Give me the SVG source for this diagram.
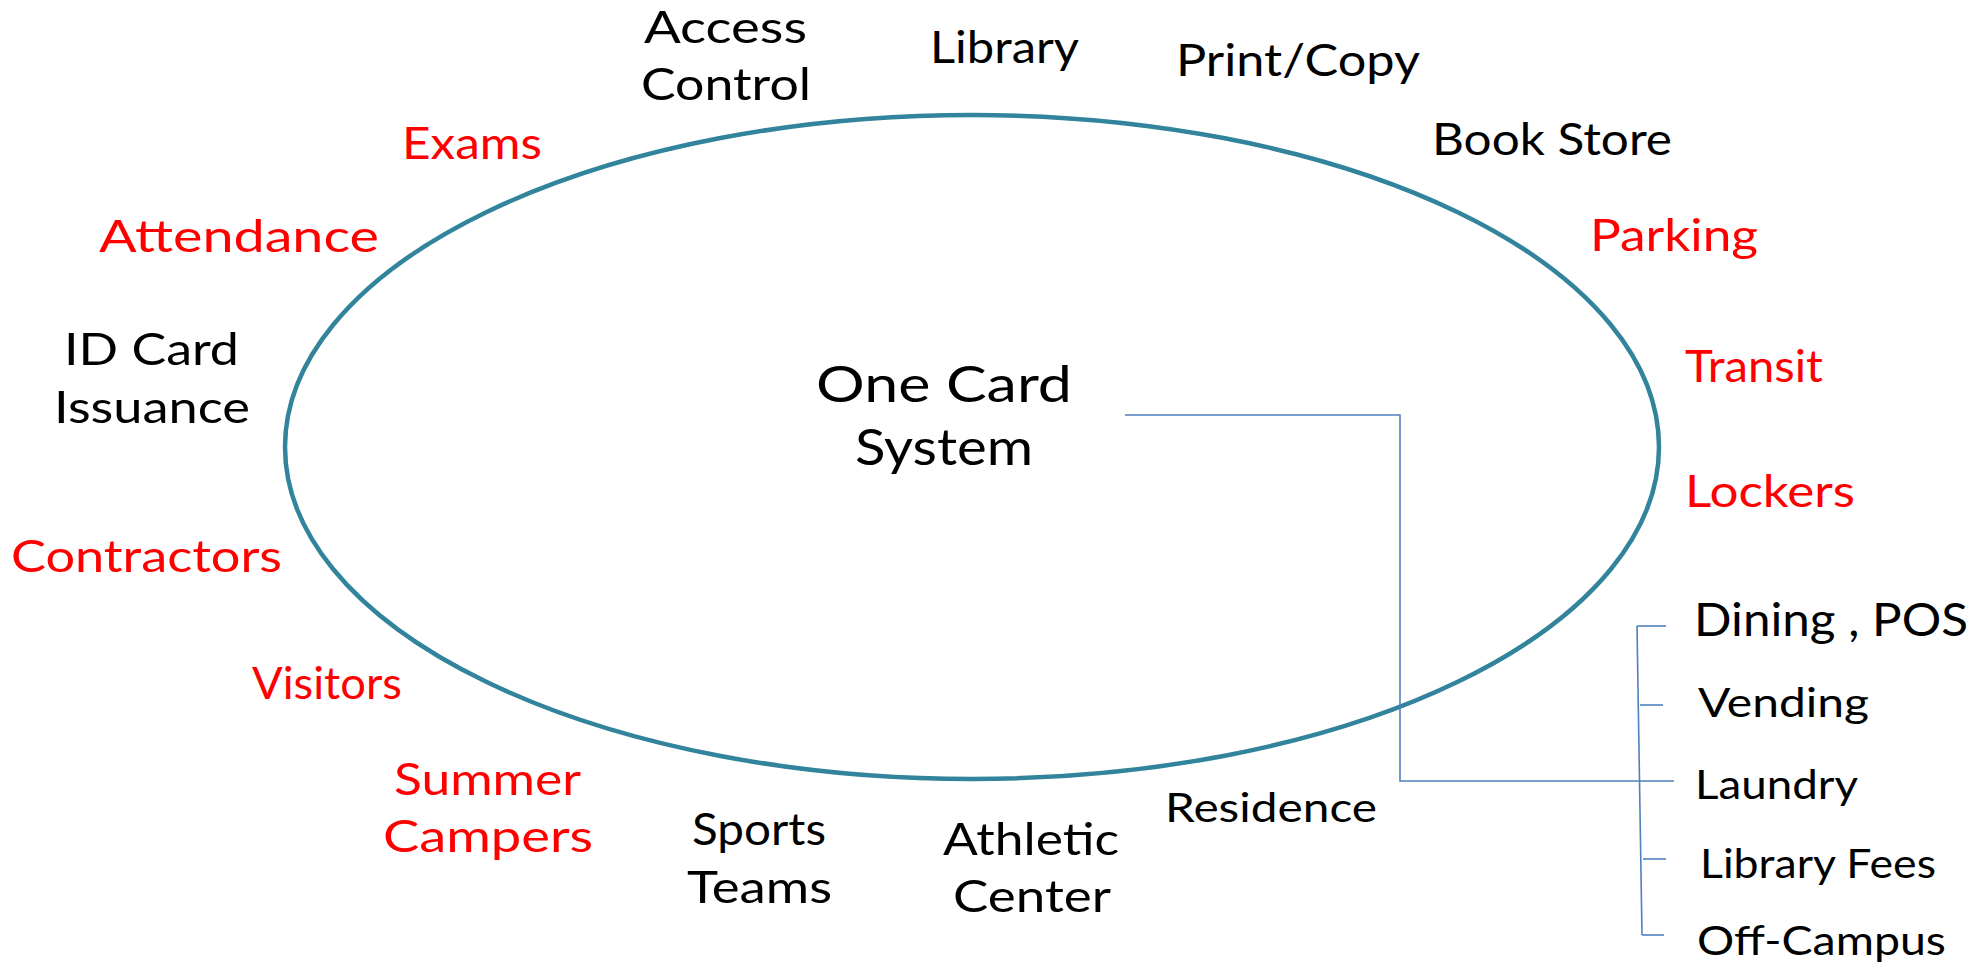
<svg xmlns="http://www.w3.org/2000/svg" width="1987" height="966" viewBox="0 0 1987 966">
  <style>
    text { font-family: "Lato", "Open Sans", "Liberation Sans", sans-serif; font-size: 45px; font-weight: 400; }
    .blk { fill: #000000; }
    .red { fill: #FF0000; }
    .sm { font-size: 40px; }
    .ctr { font-size: 50px; }
    .ring { fill: none; stroke: #31849B; stroke-width: 4.5; }
    .link { fill: none; stroke: #4F81BD; stroke-width: 1.6; }
  </style>
  <rect width="1987" height="966" fill="#FFFFFF"/>

  <!-- central ellipse -->
  <g id="one-card-system">
    <ellipse class="ring" cx="972" cy="447" rx="687" ry="332"/>
    <text class="blk ctr" x="816" y="402" textLength="256" lengthAdjust="spacingAndGlyphs">One Card</text>
    <text class="blk ctr" x="855" y="465" textLength="178" lengthAdjust="spacingAndGlyphs">System</text>
  </g>

  <!-- connectors -->
  <g id="connectors">
    <polyline class="link" points="1125,415 1400,415 1400,781 1674,781"/>
    <line class="link" x1="1637" y1="626" x2="1642" y2="935"/>
    <line class="link" x1="1637" y1="626" x2="1666" y2="626"/>
    <line class="link" x1="1640" y1="705" x2="1663" y2="705"/>
    <line class="link" x1="1643" y1="859" x2="1666" y2="859"/>
    <line class="link" x1="1642" y1="935" x2="1664" y2="935"/>
  </g>

  <!-- surrounding services -->
  <g id="access-control">
    <text class="blk" x="644" y="43" textLength="163" lengthAdjust="spacingAndGlyphs">Access</text>
    <text class="blk" x="641" y="100" textLength="170" lengthAdjust="spacingAndGlyphs">Control</text>
  </g>
  <g id="library"><text class="blk" x="930" y="63" textLength="149" lengthAdjust="spacingAndGlyphs">Library</text></g>
  <g id="print-copy"><text class="blk" x="1176" y="76" textLength="244" lengthAdjust="spacingAndGlyphs">Print/Copy</text></g>
  <g id="book-store"><text class="blk" x="1432" y="155" textLength="240" lengthAdjust="spacingAndGlyphs">Book Store</text></g>
  <g id="parking"><text class="red" x="1590" y="251" textLength="168" lengthAdjust="spacingAndGlyphs">Parking</text></g>
  <g id="transit"><text class="red" x="1685" y="382" textLength="138" lengthAdjust="spacingAndGlyphs">Transit</text></g>
  <g id="lockers"><text class="red" x="1685" y="507" textLength="170" lengthAdjust="spacingAndGlyphs">Lockers</text></g>

  <g id="exams"><text class="red" x="402" y="159" textLength="140" lengthAdjust="spacingAndGlyphs">Exams</text></g>
  <g id="attendance"><text class="red" x="99" y="252" textLength="280" lengthAdjust="spacingAndGlyphs">Attendance</text></g>
  <g id="id-card-issuance">
    <text class="blk" x="64" y="365" textLength="175" lengthAdjust="spacingAndGlyphs">ID Card</text>
    <text class="blk" x="54" y="423" textLength="196" lengthAdjust="spacingAndGlyphs">Issuance</text>
  </g>
  <g id="contractors"><text class="red" x="11" y="572" textLength="271" lengthAdjust="spacingAndGlyphs">Contractors</text></g>
  <g id="visitors"><text class="red" x="252" y="699" textLength="150" lengthAdjust="spacingAndGlyphs">Visitors</text></g>
  <g id="summer-campers">
    <text class="red" x="394" y="795" textLength="187" lengthAdjust="spacingAndGlyphs">Summer</text>
    <text class="red" x="383" y="852" textLength="210" lengthAdjust="spacingAndGlyphs">Campers</text>
  </g>
  <g id="sports-teams">
    <text class="blk" x="692" y="845" textLength="134" lengthAdjust="spacingAndGlyphs">Sports</text>
    <text class="blk" x="687" y="903" textLength="145" lengthAdjust="spacingAndGlyphs">Teams</text>
  </g>
  <g id="athletic-center">
    <text class="blk" x="943" y="855" textLength="176" lengthAdjust="spacingAndGlyphs">Athletic</text>
    <text class="blk" x="953" y="912" textLength="158" lengthAdjust="spacingAndGlyphs">Center</text>
  </g>
  <g id="residence"><text class="blk sm" x="1165" y="822" textLength="212" lengthAdjust="spacingAndGlyphs">Residence</text></g>

  <!-- payment group -->
  <g id="dining-pos"><text class="blk" x="1694" y="636" style="font-size:46px" textLength="274" lengthAdjust="spacingAndGlyphs">Dining , POS</text></g>
  <g id="vending"><text class="blk sm" x="1698" y="717" textLength="171" lengthAdjust="spacingAndGlyphs">Vending</text></g>
  <g id="laundry"><text class="blk sm" x="1695" y="799" textLength="163" lengthAdjust="spacingAndGlyphs">Laundry</text></g>
  <g id="library-fees"><text class="blk sm" x="1700" y="878" textLength="236" lengthAdjust="spacingAndGlyphs">Library Fees</text></g>
  <g id="off-campus"><text class="blk sm" x="1697" y="955" textLength="249" lengthAdjust="spacingAndGlyphs">Off-Campus</text></g>
</svg>
